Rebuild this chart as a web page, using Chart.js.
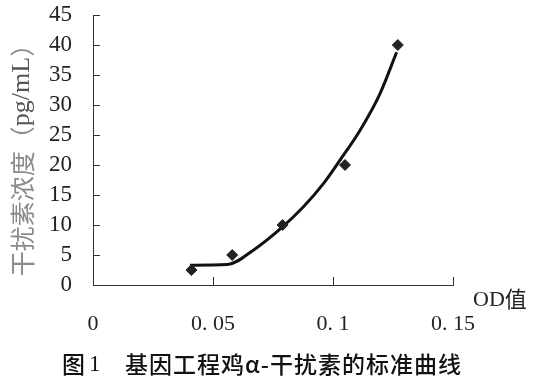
<!DOCTYPE html>
<html>
<head>
<meta charset="utf-8">
<script src="https://cdn.jsdelivr.net/npm/chart.js@4/dist/chart.umd.min.js"></script>
<style>
  html, body { margin: 0; padding: 0; background: #fff; }
  #wrap { width: 546px; height: 390px; position: relative; }
</style>
</head>
<body>
<div id="wrap"><canvas id="c" width="546" height="390"></canvas></div>
<script>
// Measured standards (OD value vs interferon concentration pg/mL)
const odValues   = [0.041, 0.058, 0.079, 0.105, 0.127];
const concValues = [2.5, 5, 10, 20, 40];

// Fitted standard curve
const curveOD   = [0.0404, 0.0560, 0.0668, 0.0779, 0.0876, 0.0960, 0.1029, 0.1113, 0.1196, 0.1265];
const curveConc = [3.3, 3.4, 5.8, 9.3, 13.0, 16.9, 20.8, 25.8, 31.9, 38.8];

// Axis ticks
const xTicks = [0, 0.05, 0.1, 0.15];
const xTickLabels = ['0', '0. 05', '0. 1', '0. 15'];
const yTicks = [0, 5, 10, 15, 20, 25, 30, 35, 40, 45];

const yTitleParts = [['干扰素浓度（', '#8a8a8a'], ['pg/mL', '#555'], ['）', '#8a8a8a']];
const xTitle = 'OD值';
const captionFig = '图';
const captionNum = '1';
const captionText = '基因工程鸡α-干扰素的标准曲线';

const serif = '"Liberation Serif", "Noto Sans CJK SC", serif';
const cjk = '"Noto Sans CJK SC", sans-serif';

const points = odValues.map((x, i) => ({ x, y: concValues[i] }));
const curve = curveOD.map((x, i) => ({ x, y: curveConc[i] }));

const decor = {
  id: 'decor',
  afterDraw(chart) {
    const ctx = chart.ctx;
    const xs = chart.scales.x, ys = chart.scales.y;
    ctx.save();
    // inward tick marks
    ctx.strokeStyle = '#333';
    ctx.lineWidth = 1;
    ctx.beginPath();
    yTicks.forEach(v => {
      if (v === 0) return;
      const py = Math.round(ys.getPixelForValue(v)) + 0.5;
      ctx.moveTo(xs.left, py); ctx.lineTo(xs.left + 7, py);
    });
    xTicks.forEach(v => {
      if (v === 0) return;
      const px = Math.round(xs.getPixelForValue(v)) + 0.5;
      ctx.moveTo(px, ys.bottom); ctx.lineTo(px, ys.bottom - 8);
    });
    ctx.stroke();

    // y axis title (rotated)
    const fontFor = p => (p === 'pg/mL' ? '26px ' + serif : '25px ' + cjk);
    let total = 0;
    const widths = yTitleParts.map(p => {
      ctx.font = fontFor(p[0]);
      const w = ctx.measureText(p[0]).width; total += w; return w;
    });
    ctx.translate(22, 154);
    ctx.rotate(-Math.PI / 2);
    ctx.textBaseline = 'middle';
    ctx.textAlign = 'left';
    let cx = -total / 2;
    yTitleParts.forEach((p, i) => {
      ctx.font = fontFor(p[0]);
      ctx.fillStyle = p[1];
      ctx.fillText(p[0], cx, 0);
      cx += widths[i];
    });
    ctx.setTransform(1, 0, 0, 1, 0, 0);

    // x axis title
    ctx.fillStyle = '#222';
    ctx.textBaseline = 'middle';
    ctx.textAlign = 'left';
    ctx.font = '22px ' + serif;
    ctx.fillText('OD', 473, 300);
    const odw = ctx.measureText('OD').width;
    ctx.font = '22px ' + cjk;
    ctx.fillText('值', 473 + odw, 299);

    // caption
    ctx.fillStyle = '#111';
    ctx.font = '500 23px ' + cjk;
    ctx.fillText(captionFig, 62, 364);
    ctx.font = '23px ' + serif;
    ctx.fillText(captionNum, 89, 365);
    ctx.font = '500 23px ' + cjk;
    ctx.letterSpacing = '1px';
    ctx.fillText(captionText, 125, 364);
    ctx.restore();
  }
};

new Chart(document.getElementById('c'), {
  type: 'scatter',
  data: {
    datasets: [
      {
        label: 'curve',
        data: curve,
        showLine: true,
        borderColor: '#111',
        borderWidth: 3,
        pointRadius: 0,
        cubicInterpolationMode: 'monotone',
        order: 2
      },
      {
        label: 'standards',
        data: points,
        pointStyle: 'rectRot',
        pointRadius: 5.5,
        backgroundColor: '#222',
        borderColor: '#222',
        borderWidth: 1,
        showLine: false,
        order: 1
      }
    ]
  },
  options: {
    responsive: false,
    animation: false,
    devicePixelRatio: 1,
    layout: { padding: { left: 0, right: 93, top: 15, bottom: 0 } },
    plugins: { legend: { display: false }, tooltip: { enabled: false } },
    scales: {
      x: {
        type: 'linear',
        min: 0, max: 0.15,
        afterBuildTicks: s => { s.ticks = xTicks.map(v => ({ value: v })); },
        afterFit: s => { s.height = 105; s.paddingLeft = 0; s.paddingRight = 0; },
        grid: { display: false, drawTicks: false },
        border: { display: true, color: '#333', width: 1 },
        ticks: {
          autoSkip: false,
          maxRotation: 0,
          padding: 26,
          color: '#222',
          font: { family: serif, size: 22 },
          callback: (v) => { const i = xTicks.indexOf(v); return i >= 0 ? xTickLabels[i] : ''; }
        }
      },
      y: {
        type: 'linear',
        min: 0, max: 45,
        afterBuildTicks: s => { s.ticks = yTicks.map(v => ({ value: v })); },
        afterFit: s => { s.width = 93; s.paddingTop = 0; s.paddingBottom = 0; },
        grid: { display: false, drawTicks: false },
        border: { display: true, color: '#333', width: 1 },
        ticks: {
          autoSkip: false,
          padding: 21,
          color: '#222',
          font: { family: serif, size: 23 }
        }
      }
    }
  },
  plugins: [decor]
});
</script>
</body>
</html>
